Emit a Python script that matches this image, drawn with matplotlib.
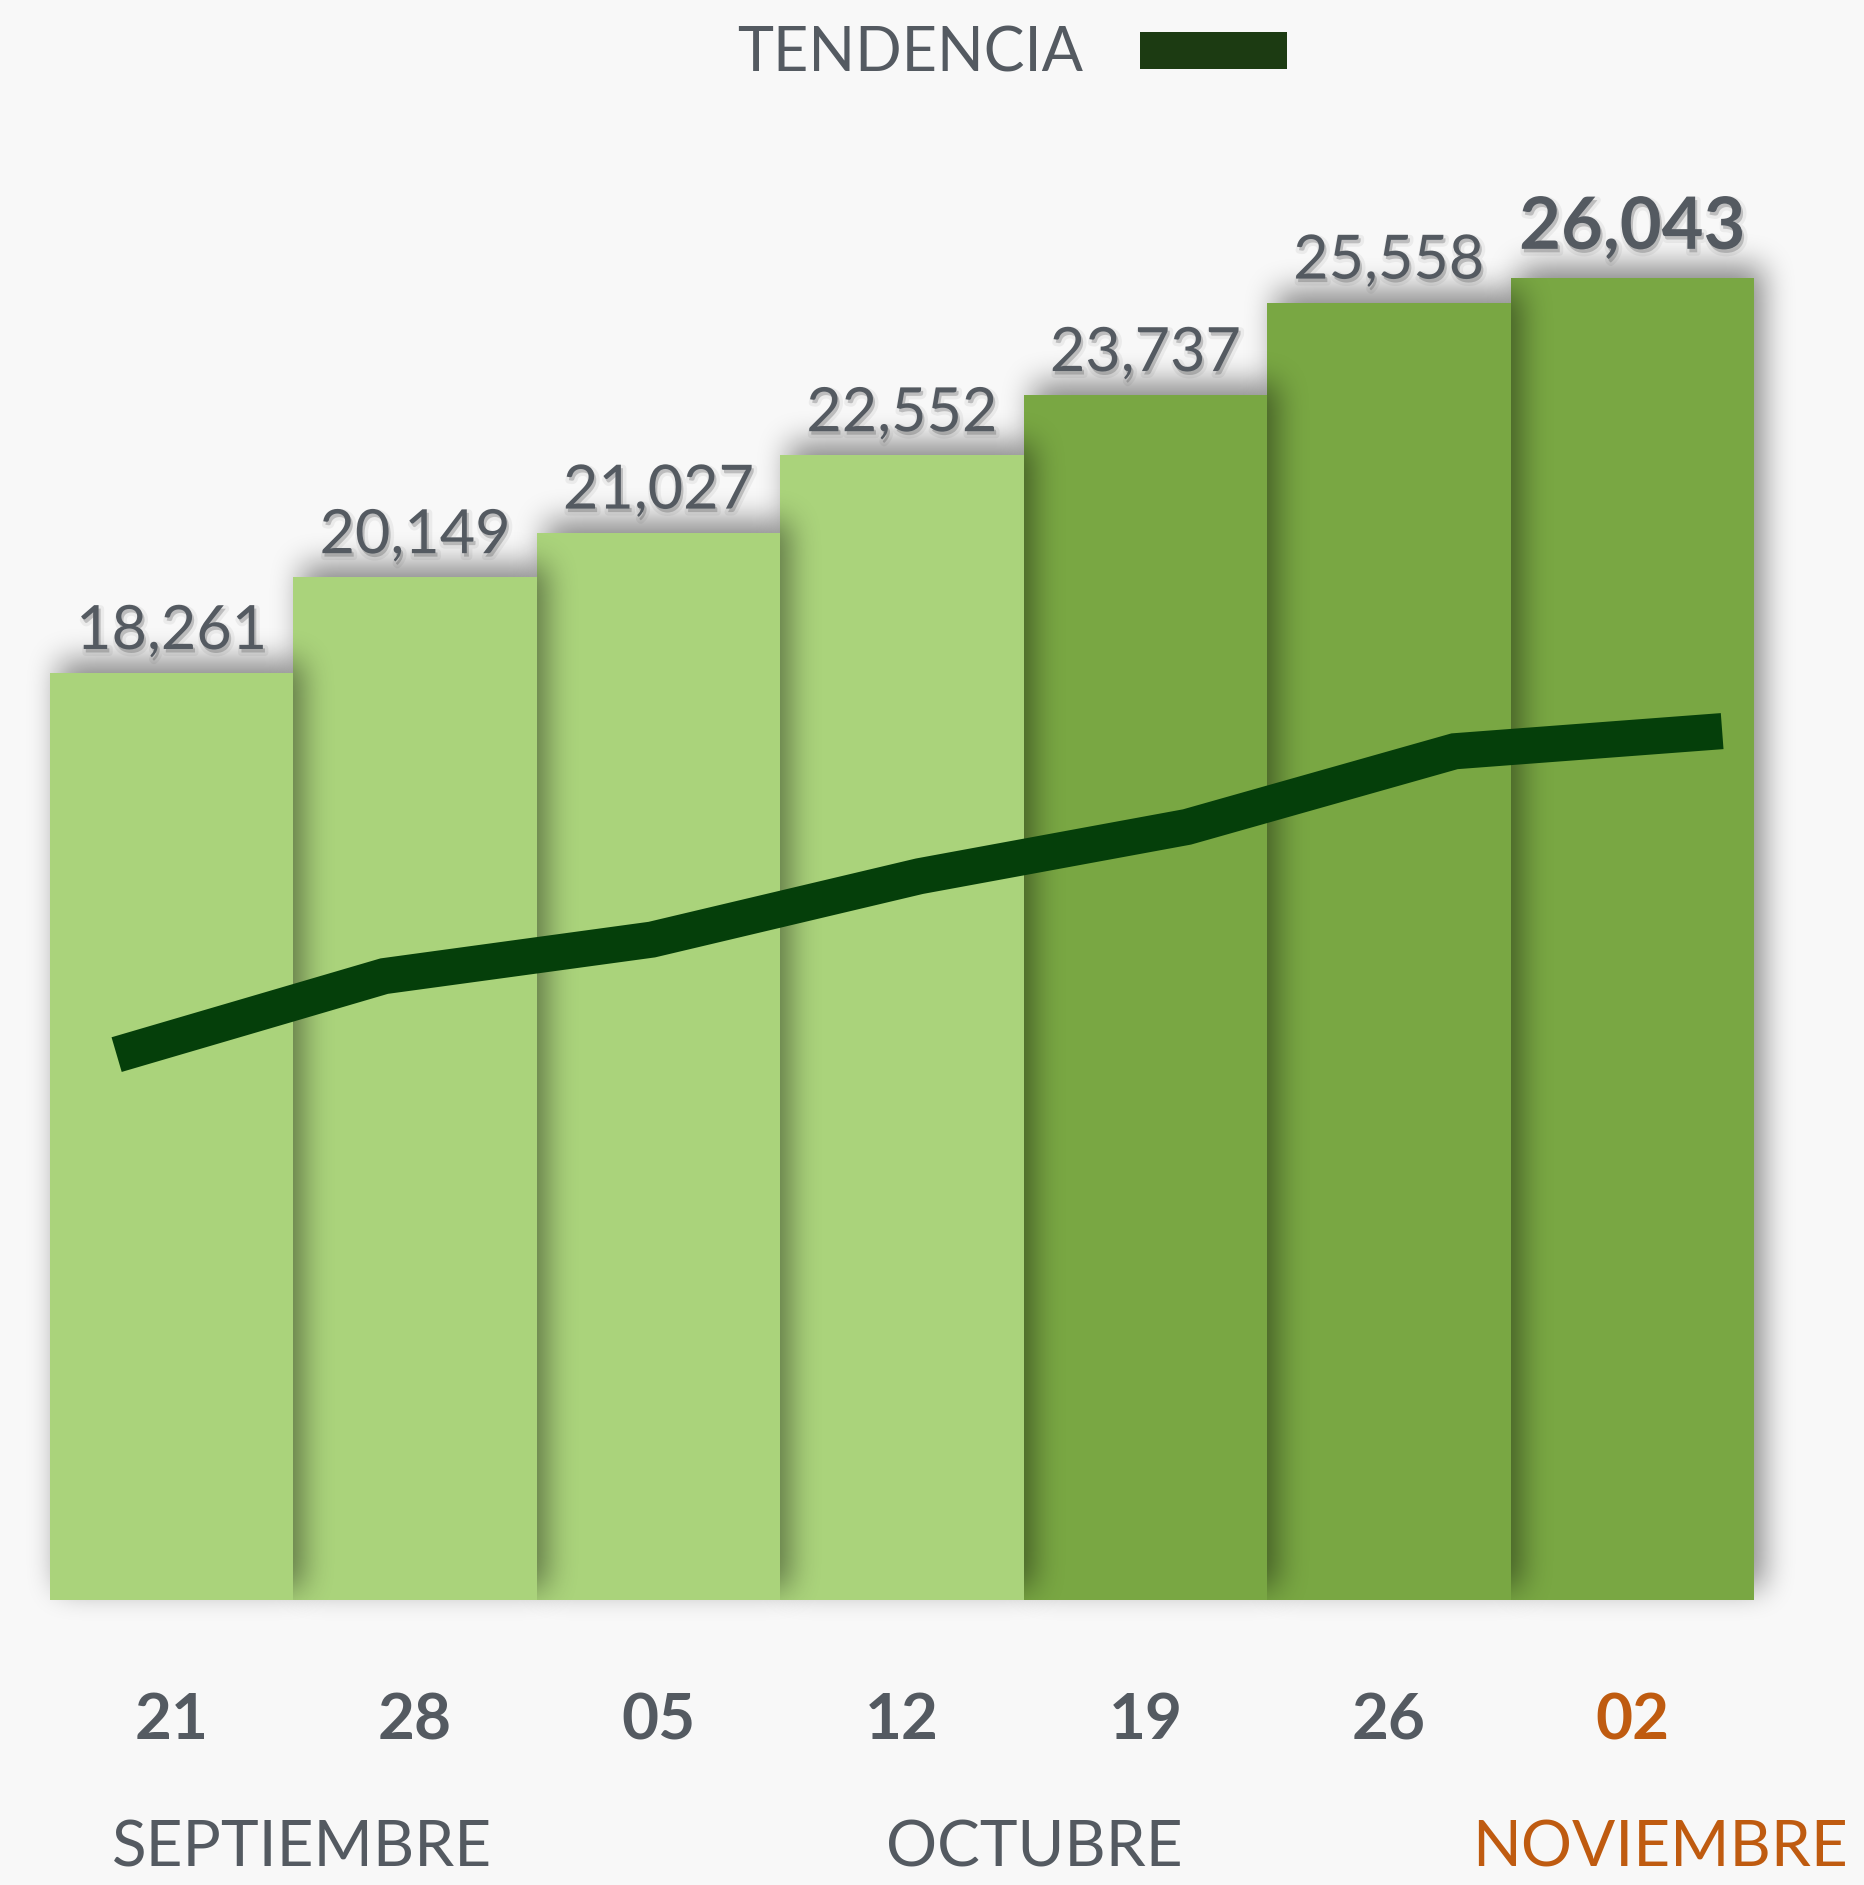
import matplotlib
matplotlib.use("Agg")
import matplotlib.pyplot as plt
import matplotlib.patheffects as pe
from matplotlib.patches import Rectangle
import numpy as np

# ---------------- data ----------------
days = ["21", "28", "05", "12", "19", "26", "02"]
values = [18261, 20149, 21027, 22552, 23737, 25558, 26043]
trend_values = [18261, 20149, 21027, 22552, 23737, 25558, 26043]
months = ["SEPTIEMBRE", "OCTUBRE", "NOVIEMBRE"]
legend_label = "TENDENCIA"

# ---------------- style ----------------
BG = "#f8f8f8"
LIGHT = "#aad37b"
DARK = "#79a743"
TREND = "#053f0a"
LEG = "#1c3b12"
GRAY = "#545a61"
ORANGE = "#bf5b10"
plt.rcParams["font.family"] = ["Lato", "DejaVu Sans"]

W, H, DPI = 1865, 1885, 100
fig = plt.figure(figsize=(W / DPI, H / DPI), dpi=DPI, facecolor=BG)


def px_rect(l, t, r, b):
    return [l / W, 1 - b / H, (r - l) / W, (b - t) / H]


rect = px_rect(50, 150, 1754, 1600)
ax = fig.add_axes(rect)
ax.set_facecolor("none")
ax.set_xlim(-0.5, 6.5)
ax.set_ylim(0, 1450 / 0.050762)
ax.set_autoscale_on(False)
ax.axis("off")

x = np.arange(len(values))
colors = [LIGHT if i < 4 else DARK for i in range(len(values))]

bars = ax.bar(x, values, width=1.0, color=colors, linewidth=0)
for i, p in enumerate(bars.patches):
    p.set_zorder(20 - 2 * i)
    p.set_clip_on(False)


# ---- soft drop shadows (gaussian-like blur of each bar's footprint) ----
def box_blur(a, r, axis):
    a = np.moveaxis(a, axis, 0)
    padw = [(r + 1, r)] + [(0, 0)] * (a.ndim - 1)
    c = np.cumsum(np.pad(a, padw), axis=0)
    out = (c[2 * r + 1:] - c[:-(2 * r + 1)]) / (2 * r + 1)
    return np.moveaxis(out, 0, axis)


SH_DX, SH_DY, SH_R, SH_STRENGTH, PAD = 9, 12, 14, 0.46, 80
inv = ax.transData.inverted()
for i, p in enumerate(bars.patches):
    (px0, py0), (px1, py1) = ax.transData.transform(
        [[p.get_x(), p.get_y()], [p.get_x() + p.get_width(), p.get_y() + p.get_height()]])
    gx0, gx1 = int(np.floor(px0)) - PAD, int(np.ceil(px1)) + PAD
    gy0, gy1 = int(np.floor(py0)) - PAD, int(np.ceil(py1)) + PAD
    xs = gx0 + np.arange(gx1 - gx0) + 0.5
    ys = gy0 + np.arange(gy1 - gy0) + 0.5
    mx = ((xs >= px0 + SH_DX) & (xs < px1 + SH_DX)).astype(float)
    my = ((ys >= py0 + SH_DY) & (ys < py1 + SH_DY)).astype(float)
    for _ in range(3):
        mx = box_blur(mx, SH_R, 0)
        my = box_blur(my, SH_R, 0)
    alpha = np.outer(my, mx) * SH_STRENGTH
    img = np.zeros(alpha.shape + (4,))
    img[..., 3] = alpha
    (ex0, ey0), (ex1, ey1) = inv.transform([[gx0, gy0], [gx1, gy1]])
    ax.imshow(img, origin="lower", extent=(ex0, ex1, ey0, ey1), aspect="auto",
              interpolation="bilinear", zorder=19 - 2 * i, clip_on=False)
ax.set_xlim(-0.5, 6.5)
ax.set_ylim(0, 1450 / 0.050762)

# value labels
txt_fx = [pe.Stroke(linewidth=5, foreground="black", alpha=0.05, offset=(1.5, -2.5)),
          pe.SimplePatchShadow(offset=(1.5, -2.5), shadow_rgbFace="black", alpha=0.16),
          pe.Normal()]
for i, v in enumerate(values):
    last = i == len(values) - 1
    ax.annotate(f"{v:,}", (i, v), xytext=(0, 21 if last else 17.3),
                textcoords="offset points", ha="center", va="baseline",
                fontsize=52 if last else 44, fontweight="bold" if last else "normal",
                color=GRAY, zorder=40, path_effects=txt_fx, annotation_clip=False)

# day labels
for i, d in enumerate(days):
    last = i == len(days) - 1
    ax.annotate(d, (i, 0), xytext=(0, -139 * 0.72),
                textcoords="offset points", ha="center", va="baseline",
                fontsize=46, fontweight="bold", color=ORANGE if last else GRAY,
                annotation_clip=False)

# month labels
month_x = [302, 1034, 1660]
for m, mx_, c in zip(months, month_x, [GRAY, GRAY, ORANGE]):
    fig.text(mx_ / W, 1 - 1866 / H, m, ha="center", va="baseline", fontsize=46, color=c)

# trend line on its own scale
ax2 = fig.add_axes(rect)
ax2.patch.set_visible(False)
ax2.axis("off")
ax2.set_xlim(-0.249, 6.119)
ax2.set_ylim(5141, 40022)
ax2.plot(x, trend_values, color=TREND, lw=26, solid_capstyle="butt",
         solid_joinstyle="miter", clip_on=False)

# legend
fig.text(737 / W, 1 - 72 / H, legend_label, ha="left", va="baseline", fontsize=44, color=GRAY)
fig.patches.append(Rectangle((1140 / W, 1 - 69 / H), 147 / W, 37 / H,
                             transform=fig.transFigure, facecolor=LEG, edgecolor="none"))

fig.savefig("out.png", dpi=DPI, facecolor=BG)
